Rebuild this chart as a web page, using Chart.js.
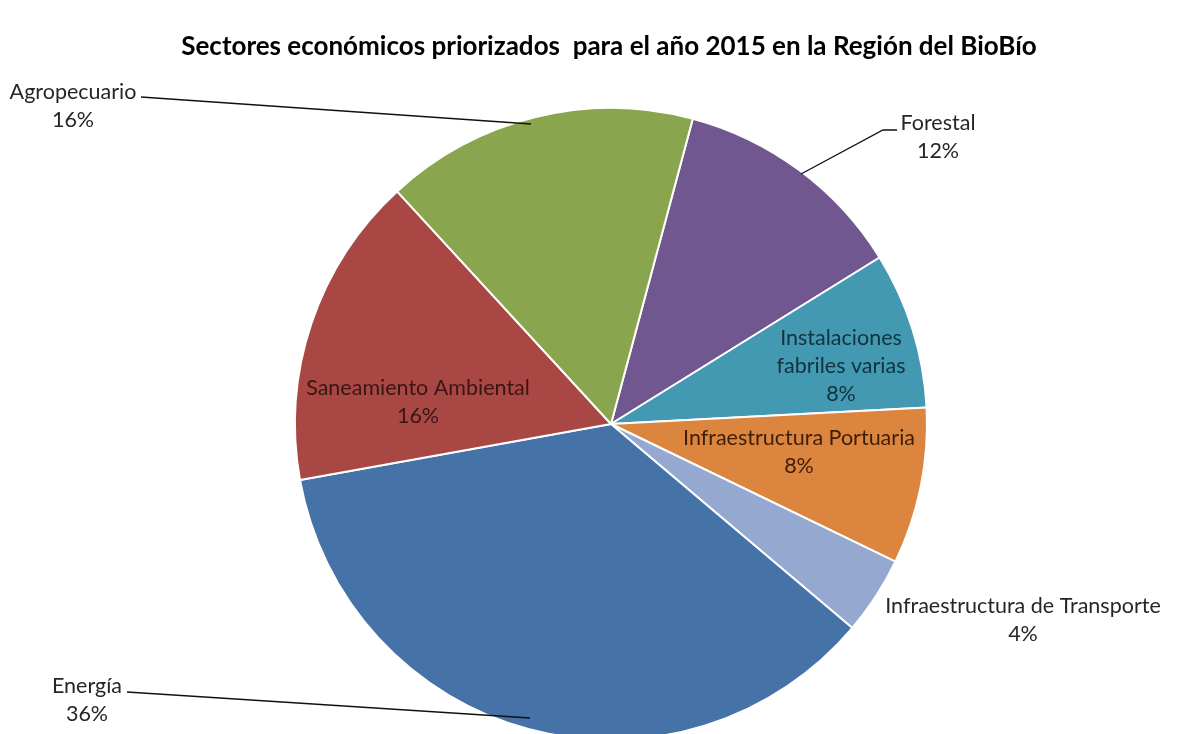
<!DOCTYPE html>
<html><head><meta charset="utf-8">
<script src="https://cdn.jsdelivr.net/npm/chart.js@4/dist/chart.umd.min.js"></script>
<style>
html,body{margin:0;padding:0;background:#fff;overflow:hidden;}
#wrap{width:1181px;height:734px;overflow:hidden;position:relative;}
#c{display:block;}
</style></head>
<body>
<div id="wrap"><canvas id="c" width="1181" height="760"></canvas></div>
<script>
const categories = ["Forestal","Instalaciones fabriles varias","Infraestructura Portuaria","Infraestructura de Transporte","Energía","Saneamiento Ambiental","Agropecuario"];
const values = [3, 2, 2, 1, 9, 4, 4];
const percentLabels = ["12%","8%","8%","4%","36%","16%","16%"];
const colors = ["#71578F","#4299B1","#DC853E","#94A8D0","#4572A7","#A94744","#89A54E"];
const titleText = "Sectores económicos priorizados  para el año 2015 en la Región del BioBío";

const labelLines = [
  ["Forestal","12%"],
  ["Instalaciones","fabriles varias","8%"],
  ["Infraestructura Portuaria","8%"],
  ["Infraestructura de Transporte","4%"],
  ["Energía","36%"],
  ["Saneamiento Ambiental","16%"],
  ["Agropecuario","16%"]
];
const labelPos = [[938,123],[841,338],[799,438],[1023,606],[87,686],[418,388],[73,92]];
const labelColors = ["#262626","#13323d","#3d1f08","#262626","#262626","#3a1514","#262626"];
const leaders = [
  [[897,130],[883,130],[801,174]],
  null,null,null,
  [[127,692],[530,718]],
  null,
  [[141,97],[531,124]]
];

const labelPlugin = {
  id:'labels',
  afterDraw(chart){
    const ctx = chart.ctx;
    ctx.save();
    ctx.font = "bold 26px Lato, 'DejaVu Sans', sans-serif";
    ctx.fillStyle = "#000";
    ctx.textAlign = "center";
    ctx.textBaseline = "middle";
    ctx.fillText(titleText, 609, 47);
    ctx.font = "21.5px Lato, 'Open Sans', sans-serif";
    labelLines.forEach((lines,i)=>{
      ctx.fillStyle = labelColors[i];
      lines.forEach((t,j)=>{
        ctx.fillText(t, labelPos[i][0], labelPos[i][1]+j*28);
      });
    });
    ctx.strokeStyle = "#111";
    ctx.lineWidth = 1.3;
    leaders.forEach(pts=>{
      if(!pts) return;
      ctx.beginPath();
      ctx.moveTo(pts[0][0],pts[0][1]);
      for(let k=1;k<pts.length;k++) ctx.lineTo(pts[k][0],pts[k][1]);
      ctx.stroke();
    });
    ctx.restore();
  }
};

new Chart(document.getElementById('c'),{
  type:'pie',
  data:{labels:categories,datasets:[{data:values,backgroundColor:colors,borderColor:"#ffffff",borderWidth:2}]},
  options:{
    responsive:false,
    animation:false,
    rotation:15,
    layout:{padding:{top:107,left:294,right:253,bottom:19}},
    plugins:{legend:{display:false},tooltip:{enabled:false},title:{display:false}}
  },
  plugins:[labelPlugin]
});
</script>
</body></html>
